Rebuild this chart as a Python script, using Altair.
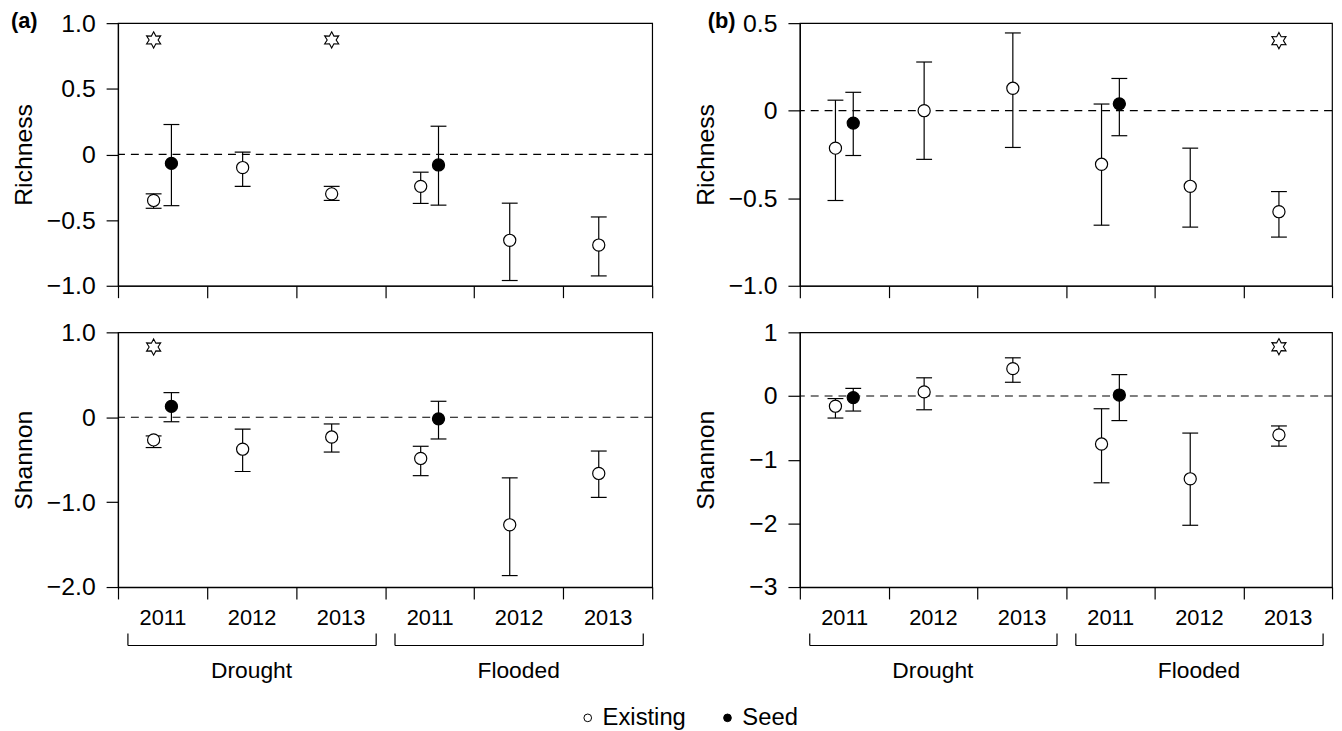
import math
import altair as alt
import pandas as pd

# ---------------- data ----------------
conditions = ["Drought", "Drought", "Drought", "Flooded", "Flooded", "Flooded"]
years = ["2011", "2012", "2013", "2011", "2012", "2013"]
cats = [c[0] + y for c, y in zip(conditions, years)]

# (a) Richness
a_rich_exist = [-0.35, -0.10, -0.30, -0.243, -0.654, -0.69]
a_rich_exist_lo = [-0.41, -0.243, -0.35, -0.373, -0.96, -0.925]
a_rich_exist_hi = [-0.30, 0.018, -0.243, -0.135, -0.371, -0.476]
a_rich_seed_cat = ["D2011", "F2011"]
a_rich_seed = [-0.068, -0.08]
a_rich_seed_lo = [-0.39, -0.386]
a_rich_seed_hi = [0.228, 0.215]
a_rich_star_cat = ["D2011", "D2013"]
a_rich_star_y = [0.872, 0.872]

# (a) Shannon
a_shan_exist = [-0.267, -0.376, -0.233, -0.485, -1.267, -0.662]
a_shan_exist_lo = [-0.357, -0.639, -0.41, -0.688, -1.865, -0.944]
a_shan_exist_hi = [-0.22, -0.139, -0.079, -0.342, -0.714, -0.398]
a_shan_seed_cat = ["D2011", "F2011"]
a_shan_seed = [0.128, -0.019]
a_shan_seed_lo = [-0.053, -0.256]
a_shan_seed_hi = [0.29, 0.188]
a_shan_star_cat = ["D2011"]
a_shan_star_y = [0.827]

# (b) Richness
b_rich_exist = [-0.214, 0.0, 0.128, -0.306, -0.432, -0.577]
b_rich_exist_lo = [-0.513, -0.278, -0.21, -0.654, -0.665, -0.722]
b_rich_exist_hi = [0.06, 0.278, 0.444, 0.038, -0.214, -0.462]
b_rich_seed_cat = ["D2011", "F2011"]
b_rich_seed = [-0.071, 0.039]
b_rich_seed_lo = [-0.256, -0.143]
b_rich_seed_hi = [0.105, 0.184]
b_rich_star_cat = ["F2013"]
b_rich_star_y = [0.40]

# (b) Shannon
b_shan_exist = [-0.16, 0.065, 0.43, -0.754, -1.30, -0.61]
b_shan_exist_lo = [-0.346, -0.216, 0.216, -1.363, -2.03, -0.787]
b_shan_exist_hi = [-0.04, 0.286, 0.60, -0.20, -0.582, -0.47]
b_shan_seed_cat = ["D2011", "F2011"]
b_shan_seed = [-0.025, 0.015]
b_shan_seed_lo = [-0.236, -0.386]
b_shan_seed_hi = [0.12, 0.336]
b_shan_star_cat = ["F2013"]
b_shan_star_y = [0.774]

types = ["Existing", "Seed"]
bracket_groups = ["Drought", "Flooded"]
bracket_start = ["D2011", "F2011"]
bracket_mid = ["D2012", "F2012"]
bracket_end = ["D2013", "F2013"]

# ---------------- style ----------------
FONT = "Liberation Sans, Arial, sans-serif"
TICK_FS = 25
XLAB_FS = 22
GROUP_FS = 23
TITLE_FS = 25
OFFSET_DOMAIN = ["_l", "Existing", "Seed", "_r"]


def star_path():
    pts = []
    for k in range(12):
        ang = math.radians(-90 + 30 * k)
        r = 1.0 if k % 2 == 0 else 0.55
        pts.append((r * math.cos(ang), r * math.sin(ang)))
    return "M" + " L".join(f"{x:.3f},{y:.3f}" for x, y in pts) + " Z"


STAR = star_path()


def panel_df(exist, lo, hi, seed_cat, seed, seed_lo, seed_hi):
    rows = []
    for c, v, l, h in zip(cats, exist, lo, hi):
        rows.append({"cat": c, "type": "Existing", "v": v, "lo": l, "hi": h})
    for c, v, l, h in zip(seed_cat, seed, seed_lo, seed_hi):
        rows.append({"cat": c, "type": "Seed", "v": v, "lo": l, "hi": h})
    return pd.DataFrame(rows)


def make_panel(df, star_cat, star_y, domain, values, fmt, title, width, height,
               bottom, letter=None):
    xscale = alt.Scale(domain=cats, paddingInner=0, paddingOuter=0)
    xo = alt.XOffset("type:N", scale=alt.Scale(domain=OFFSET_DOMAIN, paddingInner=0,
                                                paddingOuter=0.5))
    if bottom:
        xaxis = alt.Axis(title=None, labels=True, labelExpr="substring(datum.label, 1)",
                         tickBand="extent", tickSize=12, labelPadding=9,
                         labelFontSize=XLAB_FS, labelAngle=0, domain=True)
    else:
        xaxis = alt.Axis(title=None, labels=False, tickBand="extent", tickSize=12, domain=True)
    yscale = alt.Scale(domain=domain, nice=False, zero=False)
    yaxis = alt.Axis(values=values, title=title,
                     labelExpr=f"datum.value == 0 ? '0' : format(datum.value, '{fmt}')",
                     tickSize=12, labelPadding=11, labelFontSize=TICK_FS,
                     titleFontSize=TITLE_FS, titlePadding=25,
                     minExtent=57, maxExtent=57, grid=False)

    x = alt.X("cat:N", scale=xscale, axis=xaxis, sort=cats)
    base = alt.Chart(df)

    zero = alt.Chart(pd.DataFrame({"z": [0]})).mark_rule(
        strokeDash=[8, 6], color="black", strokeWidth=1.2
    ).encode(y=alt.Y("z:Q", scale=yscale, axis=yaxis))

    err = base.mark_rule(color="black", strokeWidth=1.2).encode(
        x=x, xOffset=xo, y=alt.Y("lo:Q", scale=yscale, axis=yaxis), y2="hi:Q")
    cap_lo = base.mark_tick(color="black", size=16, thickness=1.2, opacity=1).encode(
        x=x, xOffset=xo, y=alt.Y("lo:Q", scale=yscale, axis=yaxis))
    cap_hi = base.mark_tick(color="black", size=16, thickness=1.2, opacity=1).encode(
        x=x, xOffset=xo, y=alt.Y("hi:Q", scale=yscale, axis=yaxis))
    pts = base.mark_point(shape="circle", size=150, filled=True, stroke="black",
                          strokeWidth=1.2, opacity=1).encode(
        x=x, xOffset=xo, y=alt.Y("v:Q", scale=yscale, axis=yaxis),
        fill=alt.Fill("type:N", scale=alt.Scale(domain=types, range=["white", "black"]),
                      legend=alt.Legend(orient="none", legendX=462, legendY=689,
                                        direction="horizontal", title=None,
                                        labelFontSize=24, labelFont=FONT,
                                        symbolSize=60, symbolStrokeColor="black",
                                        symbolStrokeWidth=1, columnPadding=29,
                                        labelOffset=3)))
    star_df = pd.DataFrame({"cat": star_cat, "y": star_y, "type": ["Existing"] * len(star_cat)})
    stars = alt.Chart(star_df).mark_point(shape=STAR, size=270, filled=True, fill="white",
                                           stroke="black", strokeWidth=1.1, opacity=1).encode(
        x=x, xOffset=xo, y=alt.Y("y:Q", scale=yscale, axis=yaxis))

    layers = [zero, err, cap_lo, cap_hi, pts, stars]

    if letter is not None:
        lab = alt.Chart(pd.DataFrame({"t": [letter[0]]})).mark_text(
            align="left", baseline="middle", fontSize=22, fontWeight="bold", font=FONT,
            color="black", dx=letter[1]
        ).encode(x=alt.value(0), y=alt.value(-2), text="t:N")
        layers.append(lab)

    if bottom:
        bdf = pd.DataFrame({"g": bracket_groups, "s": bracket_start,
                            "m": bracket_mid, "e": bracket_end})
        bb = alt.Chart(bdf)
        hline = bb.mark_rule(color="black", strokeWidth=1.2, xOffset=10, x2Offset=-9).encode(
            x=alt.X("s:N", scale=xscale, axis=xaxis, bandPosition=0),
            x2=alt.X2("e:N", bandPosition=1),
            y=alt.value(316))
        lend = bb.mark_rule(color="black", strokeWidth=1.2, xOffset=10).encode(
            x=alt.X("s:N", scale=xscale, axis=xaxis, bandPosition=0),
            y=alt.value(304), y2=alt.value(316))
        rend = bb.mark_rule(color="black", strokeWidth=1.2, xOffset=-9).encode(
            x=alt.X("e:N", scale=xscale, axis=xaxis, bandPosition=1),
            y=alt.value(304), y2=alt.value(316))
        glab = bb.mark_text(fontSize=GROUP_FS, font=FONT, color="black", baseline="middle").encode(
            x=alt.X("m:N", scale=xscale, axis=xaxis), y=alt.value(342), text="g:N")
        layers += [hline, lend, rend, glab]

    return alt.layer(*layers).properties(width=width, height=height)


a_top = make_panel(panel_df(a_rich_exist, a_rich_exist_lo, a_rich_exist_hi,
                            a_rich_seed_cat, a_rich_seed, a_rich_seed_lo, a_rich_seed_hi),
                   a_rich_star_cat, a_rich_star_y, [-1, 1], [-1, -0.5, 0, 0.5, 1], ".1f",
                   "Richness", 539, 265, False, ("(a)", -108))
b_top = make_panel(panel_df(b_rich_exist, b_rich_exist_lo, b_rich_exist_hi,
                            b_rich_seed_cat, b_rich_seed, b_rich_seed_lo, b_rich_seed_hi),
                   b_rich_star_cat, b_rich_star_y, [-1, 0.5], [-1, -0.5, 0, 0.5], ".1f",
                   "Richness", 537, 265, False, ("(b)", -93))
a_bot = make_panel(panel_df(a_shan_exist, a_shan_exist_lo, a_shan_exist_hi,
                            a_shan_seed_cat, a_shan_seed, a_shan_seed_lo, a_shan_seed_hi),
                   a_shan_star_cat, a_shan_star_y, [-2, 1], [-2, -1, 0, 1], ".1f",
                   "Shannon", 539, 257, True)
b_bot = make_panel(panel_df(b_shan_exist, b_shan_exist_lo, b_shan_exist_hi,
                            b_shan_seed_cat, b_shan_seed, b_shan_seed_lo, b_shan_seed_hi),
                   b_shan_star_cat, b_shan_star_y, [-3, 1], [-3, -2, -1, 0, 1], ".0f",
                   "Shannon", 537, 257, True)

chart = alt.concat(a_top, b_top, a_bot, b_bot, columns=2, align="each",
                   spacing={"row": 20, "column": 39}).resolve_scale(y="independent", x="independent"
).properties(padding={"left": 2, "top": -2, "right": 0, "bottom": 0}
).configure(font=FONT).configure_view(stroke="black", strokeWidth=1.2
).configure_axis(domainColor="black", tickColor="black", labelColor="black",
                 titleColor="black", labelFont=FONT, titleFont=FONT,
                 titleFontWeight="normal", domainWidth=1.2, tickWidth=1.2, grid=False)

chart.save("out.html", embed_options={"renderer": "svg", "actions": False})
